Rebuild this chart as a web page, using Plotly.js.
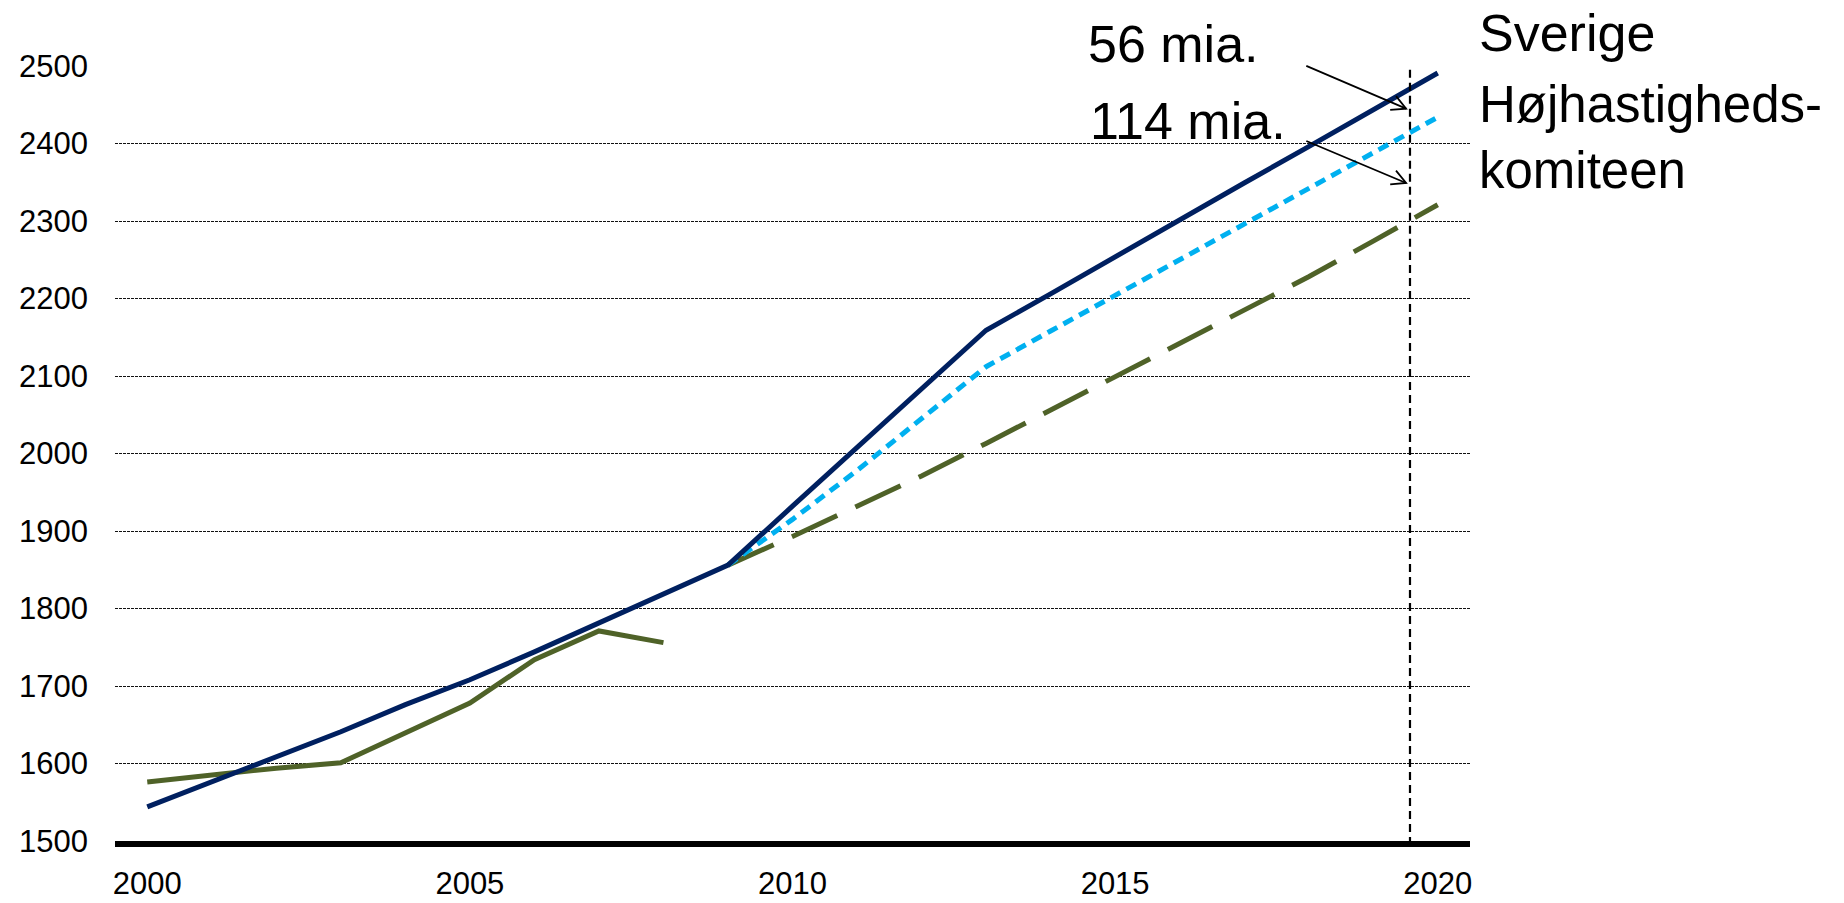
<!DOCTYPE html>
<html>
<head>
<meta charset="utf-8">
<script src="https://cdn.plot.ly/plotly-3.0.1.min.js"></script>
<style>html,body{margin:0;padding:0;background:#fff;}#chart{width:1844px;height:903px;}</style>
</head>
<body>
<div id="chart"></div>
<script>
// ---- data ----
const years = [2000,2001,2002,2003,2004,2005,2006,2007,2008,2009,2010,2011,2012,2013,2014,2015,2016,2017,2018,2019,2020];
const sverige = [1544,1576,1609,1641,1676,1708,1744,1781,1818,1856,1932,2008,2083,2159,2206,2254,2301,2349,2396,2444,2491];
const hojhastighed = [null,null,null,null,null,null,null,null,null,1856,1915,1978,2045,2112,2158,2204,2250,2296,2342,2388,2434];
const faktisk = [1576,1585,1594,1601,1640,1678,1734,1771,1756,null,null,null,null,null,null,null,null,null,null,null,null];
const basis = [null,null,null,null,null,null,null,null,null,1856,1893,1932,1971,2013,2056,2099,2142,2185,2228,2274,2321];
const xTickVals = [2000,2005,2010,2015,2020];
const xTickText = ["2000","2005","2010","2015","2020"];
const yTickVals = [1500,1600,1700,1800,1900,2000,2100,2200,2300,2400,2500];
const markerYear = 2019.57;
const arrow56 = {tailX: 2017.94, tailY: 2501, headX: 2019.51, headY: 2445};
const arrow114 = {tailX: 2017.94, tailY: 2404, headX: 2019.51, headY: 2349};

const FONT = "Liberation Sans, Arial, sans-serif";
const W = 1844, H = 903;
const M = {l: 115, r: 374, t: 66, b: 62};
const xRange = [1999.5, 2020.5], yRange = [1500, 2500];
const pxPerX = (W - M.l - M.r) / (xRange[1] - xRange[0]);
const pxPerY = (H - M.t - M.b) / (yRange[1] - yRange[0]);

// open "V" arrowhead built from the arrow's own endpoints
function vHead(a) {
  const dxp = (a.headX - a.tailX) * pxPerX, dyp = -(a.headY - a.tailY) * pxPerY;
  const len = Math.hypot(dxp, dyp), ux = dxp / len, uy = dyp / len;
  const L = 16, th = 28 * Math.PI / 180;
  const pts = [th, -th].map(t => {
    const rx = ux * Math.cos(t) - uy * Math.sin(t), ry = ux * Math.sin(t) + uy * Math.cos(t);
    return [a.headX - L * rx / pxPerX, a.headY + L * ry / pxPerY];
  });
  return {type: 'path', xref: 'x', yref: 'y', layer: 'above',
    path: `M${pts[0][0]},${pts[0][1]} L${a.headX},${a.headY} L${pts[1][0]},${pts[1][1]}`,
    line: {color: '#000', width: 1.8}};
}

const traces = [
  {x: years, y: faktisk, mode: 'lines', name: 'Faktisk', line: {color: '#4F6228', width: 5}},
  {x: years, y: basis, mode: 'lines', name: 'Basis', line: {color: '#4F6228', width: 5, dash: '50px,20px'}},
  {x: years, y: hojhastighed, mode: 'lines', name: 'Højhastighedskomiteen', line: {color: '#00B0F0', width: 5, dash: '11px,7px'}},
  {x: years, y: sverige, mode: 'lines', name: 'Sverige', line: {color: '#002060', width: 5}}
];

const layout = {
  width: W, height: H,
  margin: M,
  paper_bgcolor: '#fff', plot_bgcolor: '#fff',
  showlegend: false,
  font: {family: FONT, color: '#000'},
  xaxis: {
    range: xRange,
    tickvals: xTickVals, ticktext: xTickText,
    showgrid: false, zeroline: false,
    showline: true, linecolor: '#000', linewidth: 6,
    ticks: '', ticklabelstandoff: 10,
    tickfont: {family: FONT, size: 31, color: '#000'}
  },
  yaxis: {
    range: yRange,
    tickvals: yTickVals,
    showgrid: true, gridcolor: '#111', gridwidth: 1, griddash: '3px,1px',
    zeroline: false, showline: false,
    ticks: '', ticklabelstandoff: 26,
    tickfont: {family: FONT, size: 31, color: '#000'}
  },
  shapes: [
    {type: 'line', xref: 'x', yref: 'paper', x0: markerYear, x1: markerYear, y0: -0.005, y1: 0.998,
     line: {color: '#000', width: 2.2, dash: '8px,5px'}},
    vHead(arrow56), vHead(arrow114)
  ],
  annotations: [
    {xref: 'x', yref: 'y', axref: 'x', ayref: 'y', x: arrow56.headX, y: arrow56.headY, ax: arrow56.tailX, ay: arrow56.tailY,
     text: '', showarrow: true, arrowhead: 0, arrowwidth: 1.8, arrowcolor: '#000', standoff: 0, startstandoff: 0},
    {xref: 'x', yref: 'y', axref: 'x', ayref: 'y', x: arrow114.headX, y: arrow114.headY, ax: arrow114.tailX, ay: arrow114.tailY,
     text: '', showarrow: true, arrowhead: 0, arrowwidth: 1.8, arrowcolor: '#000', standoff: 0, startstandoff: 0},
    {xref: 'paper', yref: 'paper', x: 0.7166, y: 1.028, xanchor: 'left', yanchor: 'middle', showarrow: false,
     text: '56 mia.', font: {family: FONT, size: 52, color: '#000'}},
    {xref: 'paper', yref: 'paper', x: 0.7181, y: 0.929, xanchor: 'left', yanchor: 'middle', showarrow: false,
     text: '114 mia.', font: {family: FONT, size: 52, color: '#000'}},
    {xref: 'paper', yref: 'paper', x: 1.0052, y: 1.042, xanchor: 'left', yanchor: 'middle', showarrow: false,
     text: 'Sverige', font: {family: FONT, size: 52, color: '#000'}},
    {xref: 'paper', yref: 'paper', x: 1.0052, y: 0.908, xanchor: 'left', yanchor: 'middle', showarrow: false, align: 'left',
     text: 'Højhastigheds-<br>komiteen', font: {family: FONT, size: 51, color: '#000'}}
  ]
};

Plotly.newPlot('chart', traces, layout, {displayModeBar: false, staticPlot: true});
</script>
</body>
</html>
